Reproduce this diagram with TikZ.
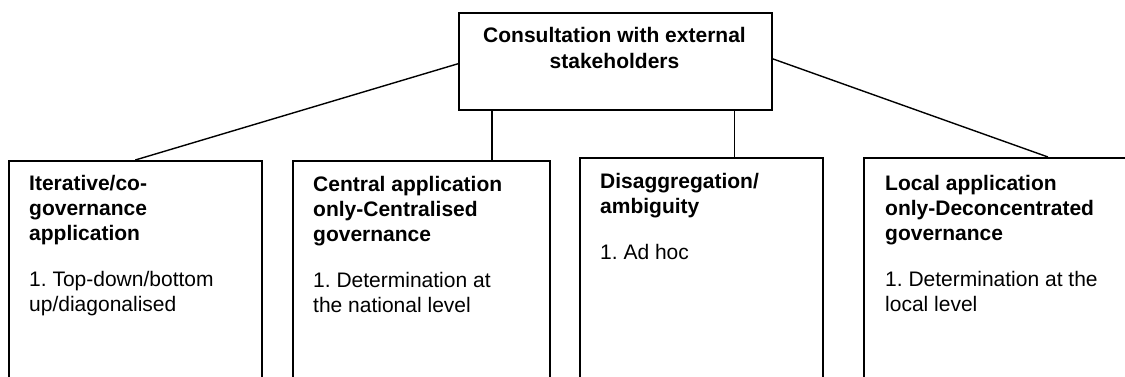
\documentclass[tikz,border=0pt]{standalone}
\usepackage{fontspec}
\setmainfont{Liberation Sans}
\frenchspacing
\begin{document}
\begin{tikzpicture}[x=1pt,y=-1pt,
  frame/.style={draw=black, line width=1.5pt, inner sep=0pt, anchor=north west},
  heading/.style={font=\fontsize{21}{26}\selectfont\bfseries, inner sep=0pt, align=center, anchor=north},
  body/.style={font=\fontsize{21}{25}\selectfont, inner sep=0pt, align=left, anchor=north west},
  link/.style={draw=black, line width=1.4pt}]
\useasboundingbox (0,0) rectangle (1125,376);
\fill[white] (0,0) rectangle (1125,376);
\clip (0,0) rectangle (1125,376);

% top box
\node[frame, minimum width=313pt, minimum height=97pt] (top) at (458,12) {};
\node[heading] (toptext) at (614.5,27.5) {Consultation with external\\stakeholders};

% lower boxes (they run past the lower edge)
\node[frame, minimum width=253pt, minimum height=300pt] (b1) at (8,160) {};
\node[frame, minimum width=257pt, minimum height=300pt] (b2) at (292,160) {};
\node[frame, minimum width=243pt, minimum height=300pt] (b3) at (579,157) {};
\node[frame, minimum width=300pt, minimum height=300pt] (b4) at (863,157) {};

\node[body] (t1) at (29,175.5) {\textbf{Iterative/co-}\\\textbf{governance}\\\textbf{application}\\[21pt]1. Top-down/bottom\\up/diagonalised};
\node[body] (t2) at (313,176) {\textbf{Central application}\\\textbf{only-Centralised}\\\textbf{governance}\\[21pt]1. Determination at\\the national level};
\node[body] (t3) at (600,173.5) {\textbf{Disaggregation/}\\\textbf{ambiguity}\\[21pt]1. Ad hoc};
\node[body] (t4) at (885,175.5) {\textbf{Local application}\\\textbf{only-Deconcentrated}\\\textbf{governance}\\[21pt]1. Determination at the\\local level};

% connectors
\draw[link] ([yshift=-2.5pt]top.west) -- (b1.north);
\draw[link] ([xshift=34pt]top.south west) -- ([xshift=34pt]top.south west |- b2.north);
\draw[link] ([xshift=-38pt]top.south east) -- ([xshift=-38pt]top.south east |- b3.north);
\draw[link] ([yshift=2.5pt]top.east) -- ([xshift=185pt]b4.north west);
\end{tikzpicture}
\end{document}
